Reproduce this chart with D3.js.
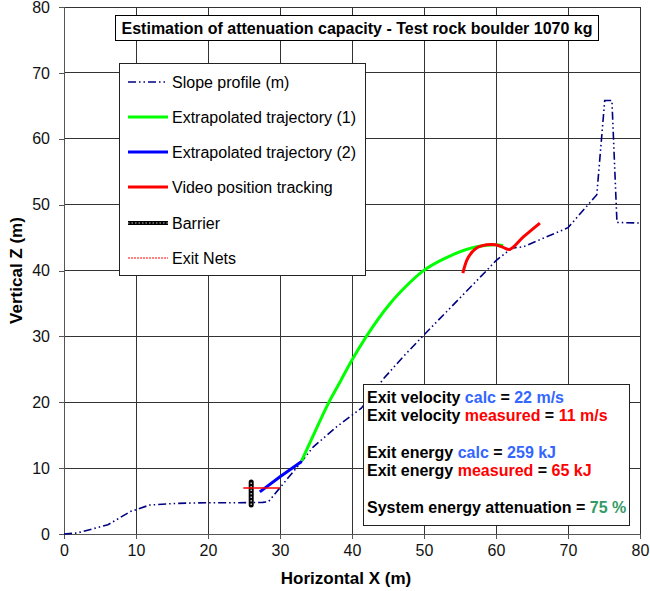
<!DOCTYPE html>
<html lang="en">
<head>
    <meta charset="UTF-8">
    <title>Estimation of attenuation capacity</title>
    <script src="https://d3js.org/d3.v7.min.js"></script>
    <style>
        body { margin: 0; background: #fff; }
        svg { font-family: Arial, "Liberation Sans", sans-serif; }
        .tick text { font-size: 16px; fill: #111; }
    </style>
</head>
<body>
    <svg></svg>
    <script>
        // Data (metres)
        const slopeX = [0, 1.8, 6.1, 9.2, 11.9, 15.6, 19.8, 24.2, 27.6, 28.4, 33.0, 34.6, 37.9, 41.3, 44.4, 47.1, 49.8, 58.7, 60.0, 62.2, 63.8, 70.0, 74.0, 75.1, 76.1, 76.8, 80];
        const slopeZ = [0, 0.15, 1.4, 3.4, 4.4, 4.65, 4.75, 4.75, 4.8, 4.9, 11.0, 13.2, 16.3, 19.1, 23.6, 26.9, 30.0, 40.0, 41.5, 43.4, 43.6, 46.5, 51.5, 65.8, 65.8, 47.3, 47.2];

        const traj1X = [33.0, 34.8, 36.7, 38.4, 40.0, 42.0, 45.3, 47.5, 49.7, 53.2, 57.3, 59.9, 61.0];
        const traj1Z = [11.1, 15.4, 19.8, 23.2, 26.4, 30.0, 35.0, 37.6, 39.8, 42.0, 43.6, 43.9, 43.8];

        const traj2X = [27.2, 30.0, 33.0];
        const traj2Z = [6.4, 8.7, 11.0];

        const videoX = [55.4, 56.1, 57.3, 58.7, 59.9, 61.0, 61.9, 63.8, 66.1];
        const videoZ = [39.6, 41.9, 43.4, 43.9, 43.9, 43.5, 43.2, 45.1, 47.2];

        const barrierX = [26, 26];
        const barrierZ = [4.4, 7.9];

        const netsX = [24.9, 30];
        const netsZ = [7.0, 7.0];

        const xTicks = [0, 10, 20, 30, 40, 50, 60, 70, 80];
        const zTicks = [0, 10, 20, 30, 40, 50, 60, 70, 80];

        const legendLabels = ["Slope profile (m)", "Extrapolated trajectory (1)", "Extrapolated trajectory (2)",
            "Video position tracking", "Barrier", "Exit Nets"];

        const title = "Estimation of attenuation capacity - Test rock boulder 1070 kg";

        // Canvas
        const width = 650, height = 591;
        const margin = { top: 7, right: 10, bottom: 57, left: 64 };
        const svg = d3.select("svg").attr("width", width).attr("height", height);

        const x = d3.scaleLinear().domain([0, 80]).range([margin.left, width - margin.right]);
        const y = d3.scaleLinear().domain([0, 80]).range([height - margin.bottom, margin.top]);

        const zip = (xs, zs) => xs.map((v, i) => [v, zs[i]]);

        // Grid
        const grid = svg.append("g").attr("shape-rendering", "crispEdges");
        grid.selectAll(".gx").data(xTicks.slice(1))
            .enter().append("line")
            .attr("x1", d => x(d)).attr("x2", d => x(d))
            .attr("y1", y(0)).attr("y2", y(80))
            .attr("stroke", "#333");
        grid.selectAll(".gy").data(zTicks.slice(1))
            .enter().append("line")
            .attr("x1", x(0)).attr("x2", x(80))
            .attr("y1", d => y(d)).attr("y2", d => y(d))
            .attr("stroke", "#333");

        // Axes
        const xAxis = svg.append("g")
            .attr("transform", `translate(0,${y(0)})`)
            .call(d3.axisBottom(x).tickValues(xTicks).tickSize(5).tickPadding(6));
        const yAxis = svg.append("g")
            .attr("transform", `translate(${x(0)},0)`)
            .call(d3.axisLeft(y).tickValues(zTicks).tickSize(5).tickPadding(9));
        [xAxis, yAxis].forEach(a => {
            a.selectAll("path, line").attr("stroke", "#555").attr("shape-rendering", "crispEdges");
            a.selectAll("text").style("font-family", "Arial, 'Liberation Sans', sans-serif");
        });

        svg.append("text")
            .attr("x", 346).attr("y", 584)
            .attr("text-anchor", "middle")
            .style("font-size", "17px").style("font-weight", "bold")
            .text("Horizontal X (m)");
        svg.append("text")
            .attr("transform", `translate(22,${(y(0) + y(80)) / 2}) rotate(-90)`)
            .attr("text-anchor", "middle")
            .style("font-size", "17px").style("font-weight", "bold")
            .text("Vertical Z (m)");

        // Series
        const lin = d3.line().x(d => x(d[0])).y(d => y(d[1]));
        const smooth = d3.line().x(d => x(d[0])).y(d => y(d[1])).curve(d3.curveMonotoneX);

        svg.append("path")
            .attr("d", lin(zip(slopeX, slopeZ)))
            .attr("fill", "none").attr("stroke", "#000080")
            .attr("stroke-width", 1.6)
            .attr("stroke-dasharray", "8,3,1.5,3,1.5,3");

        svg.append("path")
            .attr("d", smooth(zip(traj1X, traj1Z)))
            .attr("fill", "none").attr("stroke", "#00ff00").attr("stroke-width", 3);

        svg.append("path")
            .attr("d", lin(zip(traj2X, traj2Z)))
            .attr("fill", "none").attr("stroke", "#0000ff").attr("stroke-width", 3);

        svg.append("path")
            .attr("d", d3.line().x(d => x(d[0])).y(d => y(d[1])).curve(d3.curveCatmullRom)(zip(videoX, videoZ)))
            .attr("fill", "none").attr("stroke", "#ff0000").attr("stroke-width", 3);

        // Barrier: thick black chain-like line
        svg.append("path")
            .attr("d", lin(zip(barrierX, barrierZ)))
            .attr("stroke", "#000").attr("stroke-width", 5).attr("stroke-linecap", "round");
        svg.append("path")
            .attr("d", lin(zip(barrierX, barrierZ)))
            .attr("stroke", "#bbb").attr("stroke-width", 1.5).attr("stroke-dasharray", "1.5,2");

        svg.append("path")
            .attr("d", lin(zip(netsX, netsZ)))
            .attr("stroke", "#ff0000").attr("stroke-width", 1.5);

        // Title box
        const tg = svg.append("g");
        tg.append("rect")
            .attr("x", 115.5).attr("y", 15.5).attr("width", 483).attr("height", 25)
            .attr("fill", "#fff").attr("stroke", "#000");
        tg.append("text")
            .attr("x", 357).attr("y", 33.5)
            .attr("text-anchor", "middle")
            .style("font-size", "16px").style("font-weight", "bold")
            .text(title);

        // Legend
        const lg = svg.append("g");
        lg.append("rect")
            .attr("x", 119.5).attr("y", 63.5).attr("width", 246).attr("height", 212)
            .attr("fill", "#fff").attr("stroke", "#222");
        const rowY = [82, 117, 152, 187, 223, 258];
        const sampleStyles = [
            { stroke: "#000080", w: 1.6, dash: "8,3,1.5,3,1.5,3" },
            { stroke: "#00ff00", w: 3, dash: null },
            { stroke: "#0000ff", w: 3, dash: null },
            { stroke: "#ff0000", w: 3, dash: null },
            { stroke: "#000", w: 4, dash: null },
            { stroke: "#ff0000", w: 1, dash: "2,1" }
        ];
        const rows = lg.selectAll(".row").data(legendLabels).enter().append("g");
        rows.append("line")
            .attr("x1", 128).attr("x2", 168)
            .attr("y1", (d, i) => rowY[i]).attr("y2", (d, i) => rowY[i])
            .attr("stroke", (d, i) => sampleStyles[i].stroke)
            .attr("stroke-width", (d, i) => sampleStyles[i].w)
            .attr("stroke-dasharray", (d, i) => sampleStyles[i].dash);
        lg.append("line")
            .attr("x1", 128).attr("x2", 168).attr("y1", rowY[4]).attr("y2", rowY[4])
            .attr("stroke", "#bbb").attr("stroke-width", 1.2).attr("stroke-dasharray", "1.5,2");
        rows.append("text")
            .attr("x", 172).attr("y", (d, i) => rowY[i]).attr("dy", "0.35em")
            .style("font-size", "16px").style("fill", "#000")
            .text(d => d);

        // Annotation box
        const blue = "#3366ff", red = "#ff0000", green = "#339966";
        const notes = [
            [["Exit velocity ", "#000"], ["calc", blue], [" = ", "#000"], ["22 m/s", blue]],
            [["Exit velocity ", "#000"], ["measured", red], [" = ", "#000"], ["11 m/s", red]],
            [["Exit energy ", "#000"], ["calc", blue], [" = ", "#000"], ["259 kJ", blue]],
            [["Exit energy ", "#000"], ["measured", red], [" = ", "#000"], ["65 kJ", red]],
            [["System energy attenuation = ", "#000"], ["75 %", green]]
        ];
        const noteY = [397, 415, 452, 470, 507];
        const ag = svg.append("g");
        ag.append("rect")
            .attr("x", 363.5).attr("y", 384.5).attr("width", 266).attr("height", 141)
            .attr("fill", "#fff").attr("stroke", "#222");
        notes.forEach((parts, i) => {
            const t = ag.append("text")
                .attr("x", 367).attr("y", noteY[i]).attr("dy", "0.35em")
                .style("font-size", "16px").style("font-weight", "bold")
                .attr("xml:space", "preserve");
            parts.forEach(p => t.append("tspan").attr("fill", p[1]).text(p[0]));
        });
    </script>
</body>
</html>
